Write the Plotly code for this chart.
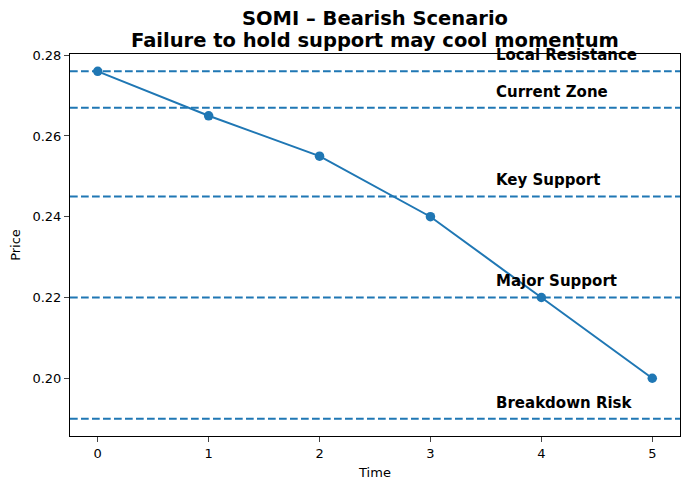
import plotly.graph_objects as go

time = [0, 1, 2, 3, 4, 5]
price = [0.276, 0.265, 0.255, 0.240, 0.220, 0.200]
level_names = ["Local Resistance", "Current Zone", "Key Support", "Major Support", "Breakdown Risk"]
level_values = [0.276, 0.267, 0.245, 0.220, 0.190]
label_x = 3.6
label_offset = 0.003
title_lines = ["SOMI – Bearish Scenario", "Failure to hold support may cool momentum"]

blue = "#1f77b4"
fig = go.Figure()
for v in level_values:
    fig.add_trace(go.Scatter(x=[-0.25, 5.25], y=[v, v], mode="lines",
                             line=dict(color=blue, width=2, dash="7.7px,3.3px"),
                             hoverinfo="skip", showlegend=False))
fig.add_trace(go.Scatter(x=time, y=price, mode="lines+markers",
                         line=dict(color=blue, width=2),
                         marker=dict(color=blue, size=9.5), showlegend=False))

for name, v in zip(level_names, level_values):
    fig.add_annotation(x=label_x, y=v + label_offset, text="<b>%s</b>" % name,
                       showarrow=False, xanchor="left", yanchor="bottom",
                       xshift=-3, yshift=-7,
                       font=dict(family="DejaVu Sans", size=15, color="black"))

for i, t in enumerate(title_lines):
    fig.add_annotation(xref="paper", yref="paper", x=0.5, y=1, yshift=36 - 22 * i,
                       text="<b>%s</b>" % t, showarrow=False,
                       xanchor="center", yanchor="middle",
                       font=dict(family="DejaVu Sans", size=19.5, color="black"))

fig.update_layout(
    width=682, height=481,
    margin=dict(l=62, r=10, t=46, b=53, autoexpand=False),
    plot_bgcolor="white", paper_bgcolor="white",
    font=dict(family="DejaVu Sans", size=13, color="black"),
)
fig.update_xaxes(range=[-0.25, 5.25], tickvals=time, ticks="outside", ticklen=5,
                 showgrid=False, zeroline=False, showline=True, linecolor="black",
                 linewidth=1.1, mirror=True, automargin=False,
                 title=dict(text="Time", standoff=8, font=dict(size=13)))
fig.update_yaxes(range=[0.1857, 0.2803], tickvals=[0.20, 0.22, 0.24, 0.26, 0.28],
                 tickformat=".2f", ticks="outside", ticklen=5,
                 showgrid=False, zeroline=False, showline=True, linecolor="black",
                 linewidth=1.1, mirror=True, automargin=False,
                 title=dict(text="Price", standoff=10, font=dict(size=13)))

fig.write_html("out.html")
